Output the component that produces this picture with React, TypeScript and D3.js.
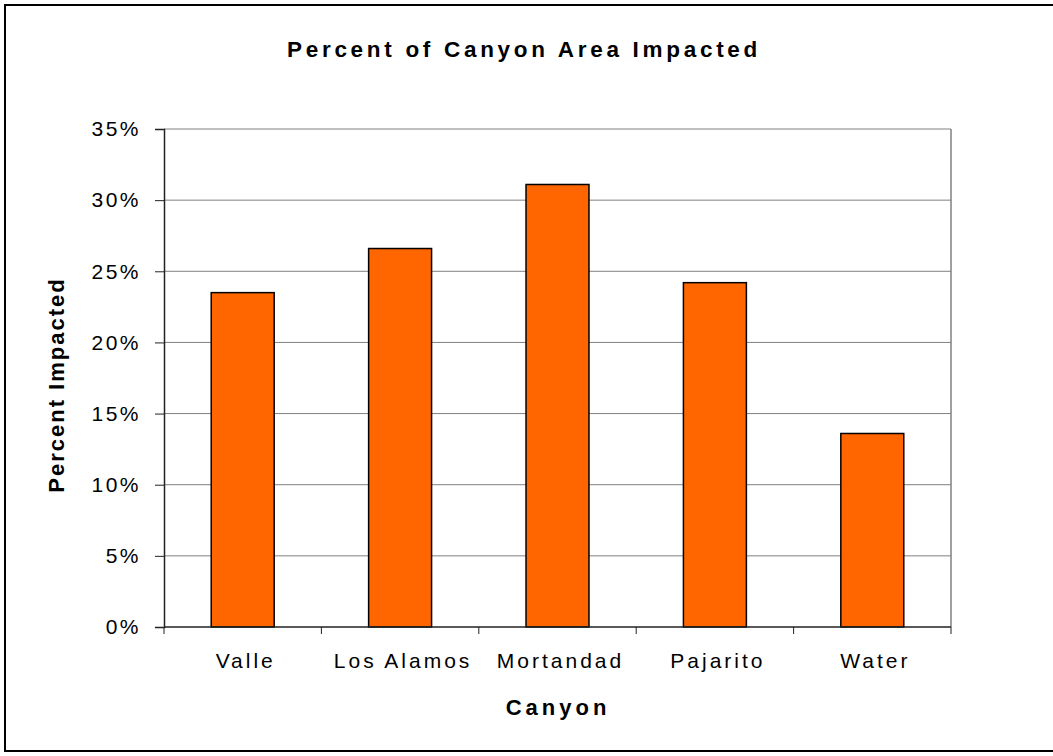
import React, { useEffect, useRef } from 'react';
import * as d3 from 'd3';

const canyons = ['Valle', 'Los Alamos', 'Mortandad', 'Pajarito', 'Water'];
const impacted = [0.235, 0.266, 0.311, 0.242, 0.136];
const yTicks = [0, 0.05, 0.1, 0.15, 0.2, 0.25, 0.3, 0.35];

export default function App() {
  const ref = useRef<SVGSVGElement | null>(null);

  useEffect(() => {
    const width = 1053;
    const height = 756;
    const margin = { top: 129, left: 164, bottom: 129, right: 102 };
    const iwidth = width - margin.left - margin.right;
    const iheight = height - margin.top - margin.bottom;
    const font = 'Liberation Sans, Arial, sans-serif';

    const svg = d3.select(ref.current);
    svg.selectAll('*').remove();

    // outer chart border (right edge runs off the picture)
    svg.append('rect')
      .attr('x', 5).attr('y', 5)
      .attr('width', width).attr('height', height - 10)
      .attr('fill', 'white').attr('stroke', 'black').attr('stroke-width', 2);

    svg.append('text')
      .attr('x', 524).attr('y', 57)
      .attr('text-anchor', 'middle')
      .attr('font-family', font).attr('font-weight', 'bold')
      .attr('font-size', 22.5).attr('letter-spacing', 3.7)
      .text('Percent of Canyon Area Impacted');

    const g = svg.append('g').attr('transform', `translate(${margin.left},${margin.top})`);

    const y = d3.scaleLinear().domain([0, 0.35]).range([iheight, 0]);
    const x = d3.scaleBand()
      .domain(canyons)
      .range([0, iwidth])
      .paddingInner(0.6)
      .paddingOuter(0.3);

    // gridlines
    g.selectAll('line.grid')
      .data(yTicks.slice(1))
      .enter().append('line')
      .attr('class', 'grid')
      .attr('x1', 0).attr('x2', iwidth)
      .attr('y1', d => y(d)).attr('y2', d => y(d))
      .attr('stroke', '#808080').attr('stroke-width', 1);

    // plot area right border
    g.append('line')
      .attr('x1', iwidth).attr('x2', iwidth)
      .attr('y1', 0).attr('y2', iheight)
      .attr('stroke', '#808080').attr('stroke-width', 1.5);

    g.selectAll('rect.bar')
      .data(impacted)
      .enter().append('rect')
      .attr('class', 'bar')
      .attr('x', (d, i) => x(canyons[i]) as number)
      .attr('y', d => y(d))
      .attr('width', x.bandwidth())
      .attr('height', d => iheight - y(d))
      .attr('fill', '#FF6600')
      .attr('stroke', 'black')
      .attr('stroke-width', 1.5);

    const yAxis = g.append('g')
      .call(d3.axisLeft(y).tickValues(yTicks).tickFormat(d3.format('.0%')).tickSize(9).tickPadding(14));
    yAxis.select('.domain').attr('stroke', '#222').attr('stroke-width', 1.5);
    yAxis.selectAll('.tick line').attr('stroke', '#222');
    yAxis.selectAll('text')
      .attr('font-family', font).attr('font-size', 21)
      .attr('letter-spacing', 2.5).attr('fill', 'black');

    const step = iwidth / canyons.length;
    const xAxis = g.append('g').attr('transform', `translate(0,${iheight})`);
    xAxis.append('line')
      .attr('x1', 0).attr('x2', iwidth)
      .attr('stroke', '#222').attr('stroke-width', 1.5);
    xAxis.selectAll('line.tk')
      .data(d3.range(canyons.length + 1))
      .enter().append('line')
      .attr('class', 'tk')
      .attr('x1', d => d * step).attr('x2', d => d * step)
      .attr('y1', 0).attr('y2', 7)
      .attr('stroke', '#222');
    xAxis.selectAll('text')
      .data(canyons)
      .enter().append('text')
      .attr('x', d => (x(d) as number) + x.bandwidth() / 2 + 3)
      .attr('y', 41)
      .attr('text-anchor', 'middle')
      .attr('font-family', font).attr('font-size', 21)
      .attr('letter-spacing', 3)
      .text(d => d);

    svg.append('text')
      .attr('x', 558).attr('y', 715)
      .attr('text-anchor', 'middle')
      .attr('font-family', font).attr('font-weight', 'bold')
      .attr('font-size', 22).attr('letter-spacing', 4)
      .text('Canyon');

    svg.append('text')
      .attr('transform', 'translate(64,385) rotate(-90)')
      .attr('text-anchor', 'middle')
      .attr('font-family', font).attr('font-weight', 'bold')
      .attr('font-size', 22).attr('letter-spacing', 2)
      .text('Percent Impacted');
  }, []);

  return (
    <div style={{ position: 'absolute', left: 0, top: 0 }}>
      <svg ref={ref} width={1053} height={756} style={{ display: 'block' }} />
    </div>
  );
}
